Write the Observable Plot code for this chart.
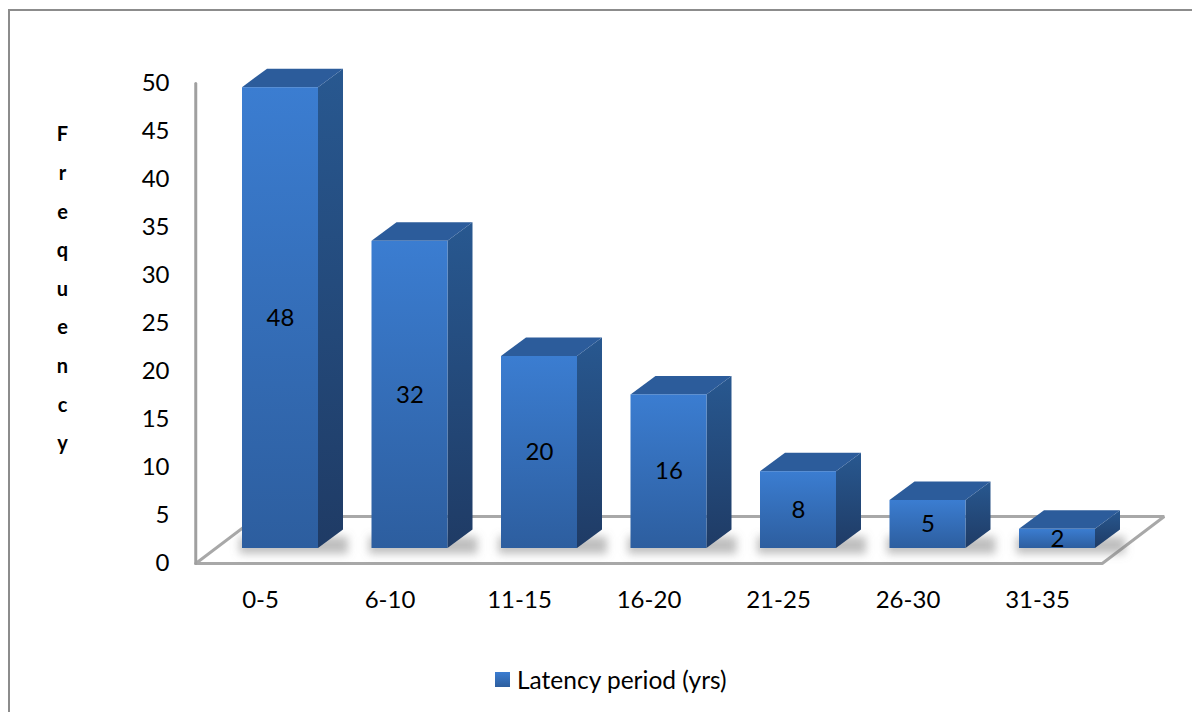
<!DOCTYPE html>
<html>
<head>
<meta charset="utf-8">
<script src="https://cdn.jsdelivr.net/npm/d3@7"></script>
<script src="https://cdn.jsdelivr.net/npm/@observablehq/plot@0.6"></script>
<style>
  html, body { margin: 0; padding: 0; background: #fff; }
  body { width: 1192px; height: 712px; position: relative; overflow: hidden; font-family: Lato, "Open Sans", sans-serif; }
  #frame { position: absolute; left: 8px; top: 9px; width: 1220px; height: 740px; border: 2px solid #8c8c8c; box-sizing: border-box; }
  #chart { position: absolute; left: 0; top: 0; }
  #legend { position: absolute; left: 495px; top: 662px; height: 34px; display: flex; align-items: center; font-size: 24.5px; color: #000; }
  #legend .swatch { width: 15px; height: 15px; margin-right: 7px; background: linear-gradient(#3b7dd1, #2d5e9e); }
</style>
</head>
<body>
<div id="frame"></div>
<div id="chart"></div>
<div id="legend"></div>
<script>
// Latency period distribution
const categories = ["0-5", "6-10", "11-15", "16-20", "21-25", "26-30", "31-35"];
const frequency = [48, 32, 20, 16, 8, 5, 2];
const yTicks = [0, 5, 10, 15, 20, 25, 30, 35, 40, 45, 50];
const yTitle = "Frequency";
const seriesName = "Latency period (yrs)";

// Layout
const W = 1192, H = 655;
const marginTop = 83, marginBottom = 92, marginLeft = 169, marginRight = 27;
const xRange = [260, 1037];
const n = categories.length;
const pxX = (xRange[1] - xRange[0]) / (n - 1);        // pixels per category step
const pxY = (H - marginTop - marginBottom) / 50;      // pixels per frequency unit
const fontSize = 24;

// 3-D box geometry, expressed in scale units
const halfWidth = 38 / pxX;
const depthX = 25 / pxX, depthY = 18.5 / pxY;         // bar depth
const floorX = 62 / pxX, floorY = 47 / pxY;           // floor depth
const setBack = {dx: 20, dy: -15};                    // bars stand a third of the way into the floor

const rows = categories.map((c, i) => ({i, c, v: frequency[i]}));

const sides = rows.flatMap(d => [
  {i: d.i, x: d.i + halfWidth, y1: 0, y2: d.v},
  {i: d.i, x: d.i + halfWidth + depthX, y1: depthY, y2: d.v + depthY}
]);
const tops = rows.flatMap(d => [
  {i: d.i, x: d.i - halfWidth, y1: d.v, y2: d.v},
  {i: d.i, x: d.i - halfWidth + depthX, y1: d.v, y2: d.v + depthY},
  {i: d.i, x: d.i + halfWidth, y1: d.v, y2: d.v + depthY},
  {i: d.i, x: d.i + halfWidth + depthX, y1: d.v + depthY, y2: d.v + depthY}
]);
const floor = [
  [-0.5, 0], [n - 0.5, 0], [n - 0.5 + floorX, floorY], [-0.5 + floorX, floorY], [-0.5, 0]
];
const axisLine = [[-0.5, 0], [-0.5, d3.max(yTicks)]];

const chart = Plot.plot({
  width: W,
  height: H,
  marginTop, marginBottom, marginLeft, marginRight,
  style: {fontFamily: "Lato, 'Open Sans', sans-serif", fontSize: fontSize + "px", color: "#000", background: "transparent", overflow: "visible"},
  x: {type: "linear", domain: [0, n - 1], range: xRange, axis: null},
  y: {domain: [0, 50], axis: null},
  marks: [
    // floor and value axis
    Plot.line(floor, {x: d => d[0], y: d => d[1], stroke: "#a8a8a8", strokeWidth: 3, strokeLinejoin: "miter"}),
    Plot.line(axisLine, {x: d => d[0], y: d => d[1], stroke: "#a0a0a0", strokeWidth: 3}),
    // soft shadows at the foot of each bar
    Plot.rect(rows, {
      x1: d => d.i - halfWidth - 0.02, x2: d => d.i + halfWidth + depthX * 1.2,
      y1: -0.6, y2: 1.2, fill: "#808080", fillOpacity: 0.5, ...setBack, ariaDescription: "bar shadow"
    }),
    // bar faces
    Plot.area(sides, {x1: "x", y1: "y1", y2: "y2", z: "i", fill: "url(#sideFace)", ...setBack}),
    Plot.area(tops, {x1: "x", y1: "y1", y2: "y2", z: "i", fill: "#2c5c9b", ...setBack}),
    Plot.rect(rows, {x1: d => d.i - halfWidth, x2: d => d.i + halfWidth, y1: 0, y2: "v", fill: "url(#frontFace)", ...setBack}),
    // value labels
    Plot.text(rows, {x: "i", y: d => d.v / 2, text: d => String(d.v), fill: "#000", fontSize, ...setBack}),
    // category labels
    Plot.text(rows, {x: "i", text: "c", frameAnchor: "bottom", dy: 44, fill: "#000", fontSize}),
    // tick labels
    Plot.text(yTicks, {y: d => d, text: d => String(d), frameAnchor: "left", textAnchor: "end", fill: "#000", fontSize}),
    // stacked axis title
    Plot.text([yTitle], {
      text: d => d.split("").join("\n"), frameAnchor: "left", textAnchor: "middle",
      dx: 62 - marginLeft, dy: -40, lineHeight: 1.93, fontWeight: "bold", fontSize: 20, fill: "#000"
    })
  ]
});

// gradients and blur used by the marks
const svgNode = chart.tagName.toLowerCase() === "svg" ? chart : chart.querySelector("svg");
const svg = d3.select(svgNode);
const defs = svg.insert("defs", ":first-child");
const front = defs.append("linearGradient").attr("id", "frontFace").attr("x1", 0).attr("y1", 0).attr("x2", 0).attr("y2", 1);
front.append("stop").attr("offset", "0%").attr("stop-color", "#3b7dd1");
front.append("stop").attr("offset", "100%").attr("stop-color", "#2d5e9f");
const side = defs.append("linearGradient").attr("id", "sideFace").attr("x1", 0).attr("y1", 0).attr("x2", 0).attr("y2", 1);
side.append("stop").attr("offset", "0%").attr("stop-color", "#285890");
side.append("stop").attr("offset", "100%").attr("stop-color", "#1f3b65");
defs.append("filter").attr("id", "soft").attr("x", "-30%").attr("y", "-150%").attr("width", "160%").attr("height", "400%")
  .append("feGaussianBlur").attr("stdDeviation", 4);
// the shadow mark is the first rect group
let shadowGroup = svg.select('[aria-description="bar shadow"]');
if (shadowGroup.empty()) shadowGroup = svg.select('g[aria-label="rect"]');
shadowGroup.attr("filter", "url(#soft)");

document.getElementById("chart").append(chart);

// legend
const legend = d3.select("#legend");
legend.append("span").attr("class", "swatch");
legend.append("span").text(seriesName);
</script>
</body>
</html>
